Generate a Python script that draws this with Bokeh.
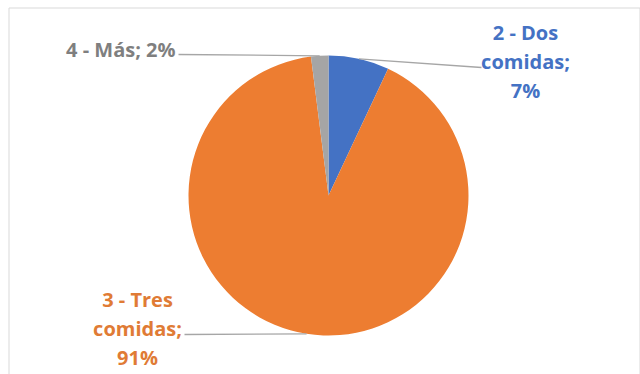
import math
from bokeh.plotting import figure
from bokeh.models import Range1d, ColumnDataSource
from bokeh.core.properties import value
from bokeh.embed import file_html
from bokeh.resources import INLINE

# ---- data ----
categories = ["2 - Dos comidas", "3 - Tres comidas", "4 - Más"]
values = [7, 91, 2]
label_texts = ["2 - Dos\ncomidas;\n7%", "3 - Tres\ncomidas;\n91%", "4 - Más; 2%"]
colors = ["#4472C4", "#ED7D31", "#A5A5A5"]
label_colors = ["#4472C4", "#E07B35", "#7F7F7F"]

W, H = 640, 374
CX, CY, R = 328, H - 195, 140

# label layout (pixel coords, y measured from top)
label_x = [525, 137, 175]
label_y = [61, 328, 49]
label_align = ["center", "center", "right"]
line_end = [(481, 67), (184, 334), (178, 54)]

p = figure(width=W, height=H, output_backend="svg", toolbar_location=None,
           x_range=Range1d(0, W), y_range=Range1d(0, H), min_border=0,
           outline_line_color=None, background_fill_color="white",
           border_fill_color="white")
p.axis.visible = False
p.grid.visible = False

# chart frame
p.quad(left=[8.5], right=[639.5], top=[H - 7.5], bottom=[-5],
       fill_color=None, line_color="#D9D9D9", line_width=1)

total = sum(values)
starts, ends, mids = [], [], []
a = math.pi / 2
for v in values:
    sweep = 2 * math.pi * v / total
    starts.append(a)
    ends.append(a - sweep)
    mids.append(a - sweep / 2)
    a -= sweep

src = ColumnDataSource(dict(start=starts, end=ends, color=colors, cat=categories))
p.wedge(x=CX, y=CY, radius=R, start_angle="end", end_angle="start",
        fill_color="color", line_color="white", line_width=0, source=src)

# leader lines
xs, ys = [], []
for m, (ex, ey) in zip(mids, line_end):
    xs.append([CX + R * math.cos(m), ex])
    ys.append([CY + R * math.sin(m), H - ey])
p.multi_line(xs=xs, ys=ys, line_color="#A6A6A6", line_width=1.3)

for t, x, y, al, c in zip(label_texts, label_x, label_y, label_align, label_colors):
    p.text(x=[x], y=[H - y], text=[t], text_align=al, text_baseline="middle",
           text_color=c, text_font=value("Open Sans"), text_font_style="bold",
           text_font_size="20px", text_line_height=1.07)

open("out.html", "w").write(file_html(p, INLINE))
